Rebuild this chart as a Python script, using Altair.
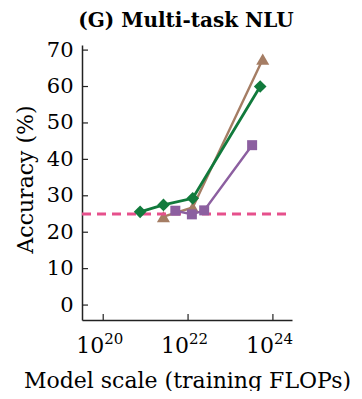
import altair as alt
import pandas as pd

# ---- data ----
chart_title = ["(G) Multi-task NLU"]

log_flops_gopher = [20.87, 21.42, 22.11, 23.70]
acc_gopher = [25.6, 27.5, 29.3, 60.0]

log_flops_gpt3 = [21.70, 22.09, 22.38, 23.51]
acc_gpt3 = [25.9, 24.9, 26.0, 43.9]

log_flops_chinchilla = [21.42, 22.11, 23.76]
acc_chinchilla = [24.3, 26.8, 67.5]

random_chance = [25]

x_tick_exponents = [20, 22, 24]
y_tick_values = [0, 10, 20, 30, 40, 50, 60, 70]

FONT = "DejaVu Serif"
W, H = 210, 275

xscale = alt.Scale(type="log", domain=[10 ** 19.5, 10 ** 24.45], nice=False)
yscale = alt.Scale(domain=[-4.1, 71.4], nice=False, zero=False)


def series_df(logx, acc):
    return pd.DataFrame({"flops": [10 ** v for v in logx], "acc": acc})


x_axis = alt.Axis(
    values=[10 ** e for e in x_tick_exponents],
    labels=False, ticks=False, tickSize=0, grid=False,
    domainColor="#222222", domainWidth=1.5,
    title="Model scale (training FLOPs)",
    titleFont=FONT, titleFontSize=22, titleFontWeight="normal", titleColor="black",
    titleBaseline="alphabetic", titleY=67, titleX=W / 2,
)
y_axis = alt.Axis(
    values=y_tick_values,
    ticks=False, tickSize=0, grid=False,
    labelFont=FONT, labelFontSize=21, labelColor="black", labelPadding=9,
    domainColor="#222222", domainWidth=1.5,
    title="Accuracy (%)",
    titleFont=FONT, titleFontSize=22, titleFontWeight="normal", titleColor="black",
    titleAngle=-90, titleBaseline="middle", titleAlign="center",
    titleX=-57, titleY=134,
)

XE = alt.X("flops:Q", scale=xscale, axis=x_axis)
YE = alt.Y("acc:Q", scale=yscale, axis=y_axis)


def line_layer(df, color, shape, size, sw):
    base = alt.Chart(df)
    line = base.mark_line(color=color, strokeWidth=sw).encode(x=XE, y=YE)
    pts = base.mark_point(shape=shape, filled=True, size=size, color=color, opacity=1).encode(x=XE, y=YE)
    return line + pts


chance = alt.Chart(pd.DataFrame({"acc": random_chance})).mark_rule(
    color="#e6508c", strokeWidth=3, strokeDash=[9, 6]
).encode(
    y=YE,
    x=alt.value(0), x2=alt.value(W),
)

brown = line_layer(series_df(log_flops_chinchilla, acc_chinchilla), "#a57d64", "triangle-up", 170, 2.4)
purple = line_layer(series_df(log_flops_gpt3, acc_gpt3), "#8c5fa0", "square", 100, 2.4)
green = line_layer(series_df(log_flops_gopher, acc_gopher), "#117a3c", "diamond", 160, 2.8)

xt_df = pd.DataFrame({
    "flops": [10 ** e for e in x_tick_exponents],
    "exp": [str(e) for e in x_tick_exponents],
})
yt_df = pd.DataFrame({"acc": y_tick_values})

x_ticks = alt.Chart(xt_df).mark_rule(color="#222222", strokeWidth=1.2).encode(
    x=XE,
    y=alt.value(H), y2=alt.value(H - 6),
)
y_ticks = alt.Chart(yt_df).mark_rule(color="#222222", strokeWidth=1.2).encode(
    y=YE,
    x=alt.value(0), x2=alt.value(6),
)
x_base = alt.Chart(xt_df).mark_text(
    text="10", font=FONT, fontSize=22, align="right", baseline="alphabetic", color="black", dx=1
).encode(
    x=XE,
    y=alt.value(308),
)
x_exp = alt.Chart(xt_df).mark_text(
    font=FONT, fontSize=15, align="left", baseline="alphabetic", color="black", dx=1
).encode(
    x=XE,
    y=alt.value(299),
    text="exp:N",
)

title_mark = alt.Chart(pd.DataFrame({"t": chart_title})).mark_text(
    font=FONT, fontSize=20, fontWeight="bold", color="black",
    align="center", baseline="alphabetic",
).encode(
    x=alt.value(W / 2 - 1),
    y=alt.value(-18),
    text="t:N",
)

chart = alt.layer(
    brown, chance, purple, green, x_ticks, y_ticks, x_base, x_exp, title_mark
).properties(
    width=W, height=H,
    autosize=alt.AutoSizeParams(type="none"),
    padding={"left": 74, "top": 37, "right": 62, "bottom": 71},
).configure_view(stroke=None)

chart.save("out.html", embed_options={"renderer": "svg", "actions": False})
